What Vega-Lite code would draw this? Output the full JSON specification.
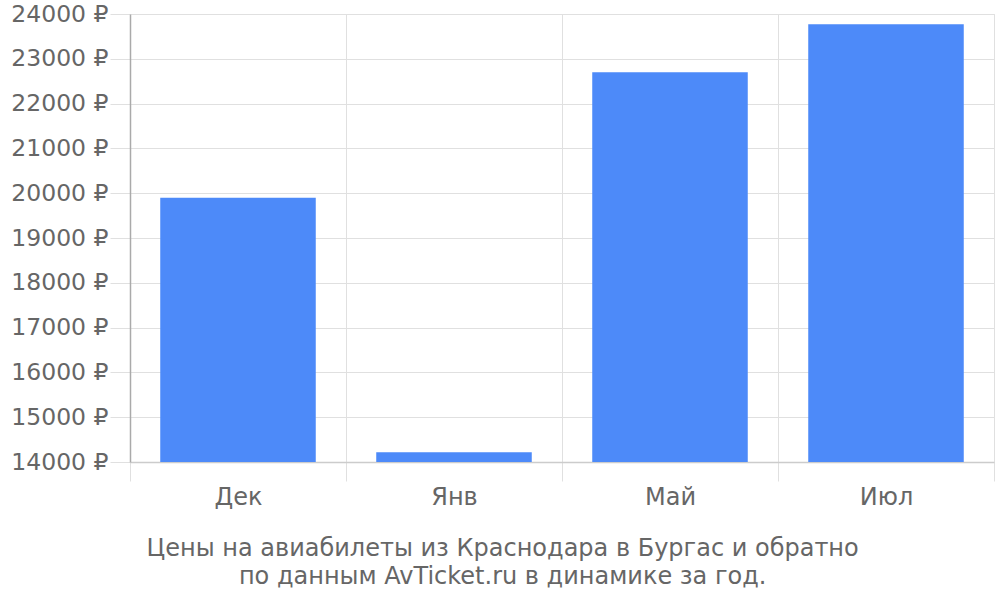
{
  "$schema": "https://vega.github.io/schema/vega-lite/v6.json",
  "autosize": {"type": "none"},
  "padding": {"left": 130, "top": 14, "right": 6, "bottom": 138},
  "width": 864,
  "height": 448,
  "data": {"values": [
    {"month": "Дек", "price": 19900},
    {"month": "Янв", "price": 14220},
    {"month": "Май", "price": 22700},
    {"month": "Июл", "price": 23770}
  ]},
  "title": {
    "text": ["Цены на авиабилеты из Краснодара в Бургас и обратно", "по данным AvTicket.ru в динамике за год."],
    "orient": "bottom",
    "anchor": "middle",
    "frame": "bounds",
    "font": "DejaVu Sans",
    "fontSize": 24,
    "fontWeight": "normal",
    "color": "#666666",
    "lineHeight": 28,
    "offset": 28
  },
  "config": {
    "view": {"stroke": "#e0e0e0"},
    "font": "DejaVu Sans"
  },
  "mark": {"type": "bar", "color": "#4d8af9", "width": {"band": 0.72}, "clip": true},
  "encoding": {
    "x": {
      "field": "month",
      "type": "nominal",
      "sort": null,
      "scale": {"paddingInner": 0, "paddingOuter": 0},
      "axis": {
        "title": null,
        "labelAngle": 0,
        "labelFont": "DejaVu Sans",
        "labelFontSize": 24,
        "labelColor": "#666666",
        "labelPadding": 4,
        "tickBand": "extent",
        "grid": true,
        "gridColor": "#e0e0e0",
        "tickColor": "#e0e0e0",
        "tickSize": 19,
        "domainColor": "#cccccc",
        "domainWidth": 1.5
      }
    },
    "y": {
      "field": "price",
      "type": "quantitative",
      "scale": {"domain": [14000, 24000], "nice": false, "zero": false},
      "axis": {
        "title": null,
        "values": [14000, 15000, 16000, 17000, 18000, 19000, 20000, 21000, 22000, 23000, 24000],
        "labelExpr": "datum.value + ' ₽'",
        "labelFont": "DejaVu Sans",
        "labelFontSize": 23.5,
        "labelColor": "#666666",
        "labelPadding": 2,
        "grid": true,
        "gridColor": "#e0e0e0",
        "tickColor": "#e0e0e0",
        "tickSize": 20,
        "domainColor": "#aaaaaa",
        "domainWidth": 1.5
      }
    }
  }
}
